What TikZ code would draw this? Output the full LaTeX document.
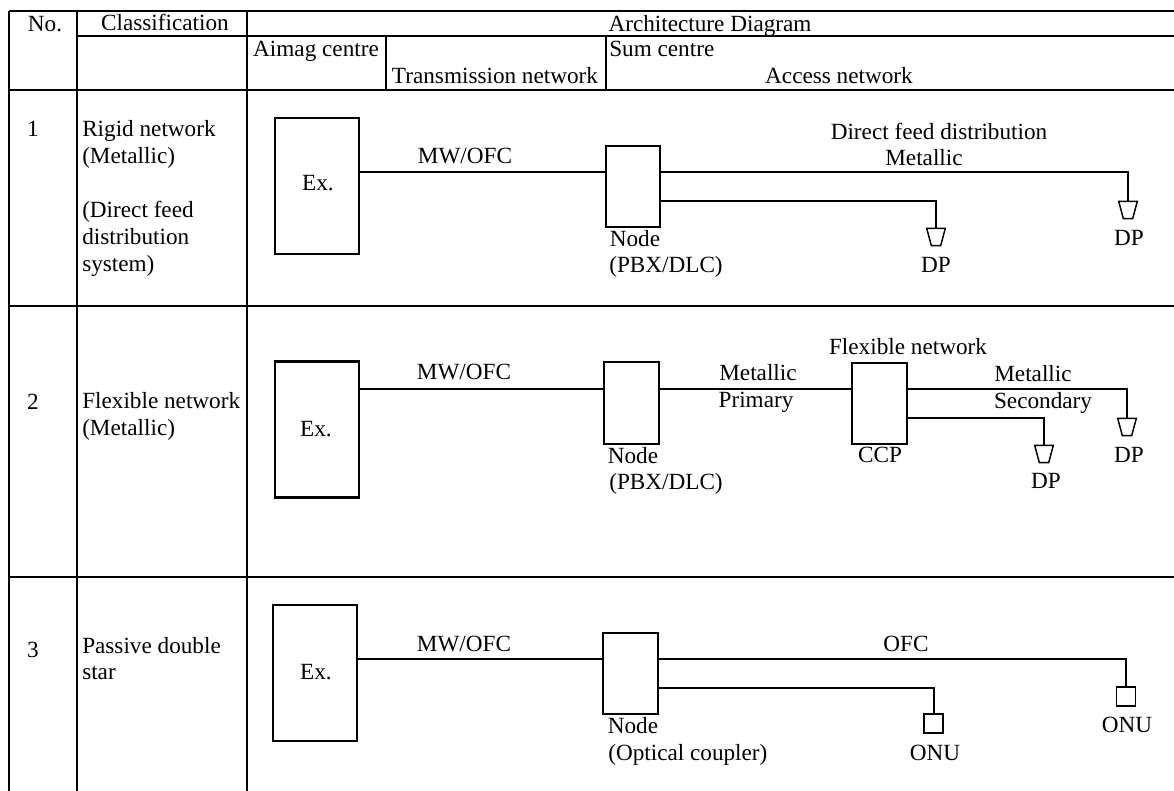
\documentclass[tikz,border=0pt]{standalone}
\usepackage{fontspec}
\setmainfont{Liberation Serif}
\usetikzlibrary{shapes.geometric, positioning, calc}
\tikzset{
  txt/.style={inner sep=0pt, text height=14pt, text depth=3pt, text=black},
  txtl/.style={txt, anchor=west},
  exbox/.style={rectangle, draw, line width=1.7pt, inner sep=0pt,
                minimum width=63pt, minimum height=102pt},
  nodebox/.style={rectangle, draw, line width=1.7pt, inner sep=0pt,
                  minimum width=41pt, minimum height=61pt},
  dpbox/.style={trapezium, draw, line width=1.1pt, shape border rotate=180,
                trapezium left angle=75, trapezium right angle=75, inner sep=0pt,
                text width=7pt, text height=13pt, text depth=0pt},
  onubox/.style={rectangle, draw, line width=1.1pt, inner sep=0pt,
                 minimum width=14pt, minimum height=14pt},
  link/.style={line width=1.5pt},
  rule/.style={line width=1.6pt},
}
\begin{document}
\begin{tikzpicture}[x=0.75pt, y=-0.75pt, font=\fontsize{17.4}{20}\selectfont]
  \useasboundingbox[fill=white] (0,0) rectangle (1174,791);

  % table rules
  \draw[rule] (9,11) -- (1174,11);
  \draw[rule] (77,36) -- (1174,36);
  \draw[rule] (9,90) -- (1174,90);
  \draw[rule] (9,306) -- (1174,306);
  \draw[rule] (9,577) -- (1174,577);
  \foreach \x in {9, 77, 247}
    \draw[rule] (\x,11) -- (\x,791);
  \draw[rule] (386,36) -- (386,90);
  \draw[rule] (606,36) -- (606,90);

  % header
  \node[txt] (no)    at (45,24)   {No.};
  \node[txt] (cls)   at (165,23)  {Classification};
  \node[txt] (arch)  at (710,24)  {Architecture Diagram};
  \node[txt] (aimag) at (316,49)  {Aimag centre};
  \node[txt] (trans) at (495,76)  {Transmission network};
  \node[txtl] (sum)  at (609,49)  {Sum centre};
  \node[txt] (acc)   at (839,76)  {Access network};

  % row labels
  \foreach \n/\y/\t in {rowa/129/1, rowb/402/2, rowc/650/3}
    \node[txt] (\n) at (33,\y) {\t};
  \foreach \n/\y/\t in {cla/129/Rigid network, clb/156/(Metallic), clc/210/(Direct feed,
                        cld/237/distribution, cle/264/system), clf/401/Flexible network,
                        clg/428/(Metallic), clh/646/Passive double, cli/672/star}
    \node[txtl] (\n) at (82,\y) {\t};

  % row 1
  \node[exbox]   (exa) at (317,186) {};
  \node[nodebox] (nda) at (633,186.5) {};
  \node[dpbox]   (dpa) at (1128,210) {};
  \node[dpbox]   (dpb) at (936,237) {};
  \coordinate (upa) at ($(nda.north east)!0.33!(nda.south east)$);
  \coordinate (loa) at ($(nda.north east)!0.67!(nda.south east)$);
  \draw[link] (upa -| exa.east) -- (upa -| nda.west);
  \draw[link] (upa) -| (dpa.north);
  \draw[link] (loa) -| (dpb.north);
  \node[txt] (exla) at (318,183)  {Ex.};
  \node[txt] (mwa)  at (465,156)  {MW/OFC};
  \node[txt] (dfd)  at (939,132)  {Direct feed distribution};
  \node[txt] (meta) at (924,158)  {Metallic};
  \node[txt] (nla)  at (635,239)  {Node};
  \node[txtl] (pba) at (609,265)  {(PBX/DLC)};
  \node[txt] (dla)  at (1129,238) {DP};
  \node[txt] (dlb)  at (936,265)  {DP};

  % row 2
  \node[exbox]   (exb) at (317,429.5) {};
  \node[nodebox] (ndb) at (631.5,403) {};
  \node[nodebox] (ccp) at (879.5,403.5) {};
  \node[dpbox]   (dpc) at (1127,427) {};
  \node[dpbox]   (dpd) at (1044,454) {};
  \coordinate (upb) at ($(ndb.north east)!0.33!(ndb.south east)$);
  \coordinate (upc) at ($(ccp.north east)!0.33!(ccp.south east)$);
  \coordinate (loc) at ($(ccp.north east)!0.67!(ccp.south east)$);
  \draw[link] (upb -| exb.east) -- (upb -| ndb.west);
  \draw[link] (upb) -- (upb -| ccp.west);
  \draw[link] (upc) -| (dpc.north);
  \draw[link] (loc) -| (dpd.north);
  \node[txt] (exlb) at (316,429)  {Ex.};
  \node[txt] (mwb)  at (464,372)  {MW/OFC};
  \node[txt] (flx)  at (908,347)  {Flexible network};
  \node[txt] (metb) at (758,373)  {Metallic};
  \node[txt] (pri)  at (756,400)  {Primary};
  \node[txt] (metc) at (1033,374) {Metallic};
  \node[txt] (sec)  at (1043,401) {Secondary};
  \node[txt] (nlb)  at (633,456)  {Node};
  \node[txtl] (pbb) at (609,482)  {(PBX/DLC)};
  \node[txt] (ccl)  at (880,455)  {CCP};
  \node[txt] (dlc)  at (1129,455) {DP};
  \node[txt] (dld)  at (1046,481) {DP};

  % row 3
  \node[exbox]   (exc) at (315,673) {};
  \node[nodebox] (ndc) at (630.5,673.5) {};
  \node[onubox]  (ona) at (1126,696.5) {};
  \node[onubox]  (onb) at (933.5,723.5) {};
  \coordinate (upd) at ($(ndc.north east)!0.33!(ndc.south east)$);
  \coordinate (lod) at ($(ndc.north east)!0.67!(ndc.south east)$);
  \draw[link] (upd -| exc.east) -- (upd -| ndc.west);
  \draw[link] (upd) -| (ona.north);
  \draw[link] (lod) -| (onb.north);
  \node[txt] (exlc) at (316,672)  {Ex.};
  \node[txt] (mwc)  at (464,644)  {MW/OFC};
  \node[txt] (ofc)  at (906,644)  {OFC};
  \node[txt] (nlc)  at (633,726)  {Node};
  \node[txtl] (opt) at (608,753)  {(Optical coupler)};
  \node[txt] (ola)  at (1127,725) {ONU};
  \node[txt] (olb)  at (935,753)  {ONU};
\end{tikzpicture}
\end{document}
